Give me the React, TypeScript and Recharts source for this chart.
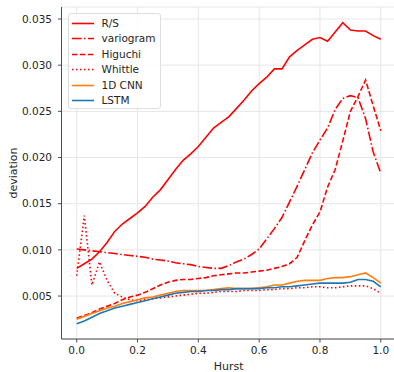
import { LineChart, Line, XAxis, YAxis, CartesianGrid, Legend, Label } from 'recharts'

const hurst = [
  0, 0.025, 0.05, 0.075, 0.1, 0.125, 0.15, 0.175, 0.2, 0.225, 0.25, 0.275, 0.3, 0.325,
  0.35, 0.375, 0.4, 0.425, 0.45, 0.475, 0.5, 0.525, 0.55, 0.575, 0.6, 0.625, 0.65, 0.675,
  0.7, 0.725, 0.75, 0.775, 0.8, 0.825, 0.85, 0.875, 0.9, 0.925, 0.95, 0.975, 1.0,
]

const rsDev = [
  0.008, 0.0085, 0.009, 0.0098, 0.0108, 0.012, 0.0128, 0.0134, 0.014, 0.0147, 0.0157, 0.0165,
  0.0176, 0.0187, 0.0197, 0.0204, 0.0212, 0.0222, 0.0232, 0.0238, 0.0244, 0.0253, 0.0262,
  0.0272, 0.028, 0.0287, 0.0296, 0.0296, 0.0309, 0.0316, 0.0322, 0.0328, 0.033, 0.0326,
  0.0336, 0.0346, 0.0338, 0.0337, 0.0337, 0.0332, 0.0328,
]

const variogramDev = [
  0.0101, 0.01, 0.0099, 0.0098, 0.0097, 0.0096, 0.0095, 0.0094, 0.0093, 0.0092, 0.009,
  0.0089, 0.0088, 0.0086, 0.0085, 0.0084, 0.0082, 0.0081, 0.008, 0.008, 0.0083, 0.0087,
  0.009, 0.0095, 0.0101, 0.0112, 0.0123, 0.0135, 0.0152, 0.0169, 0.0187, 0.0205, 0.0219,
  0.0232, 0.0252, 0.0264, 0.0267, 0.0265, 0.0242, 0.0206, 0.0183,
]

const higuchiDev = [
  0.0026, 0.0029, 0.0032, 0.0036, 0.0039, 0.0042, 0.0046, 0.0049, 0.0051, 0.0054, 0.0058,
  0.0062, 0.0065, 0.0067, 0.0068, 0.0068, 0.0069, 0.007, 0.0072, 0.0073, 0.0074, 0.0075,
  0.0075, 0.0076, 0.0077, 0.0078, 0.008, 0.0082, 0.0085, 0.0092, 0.011, 0.0127, 0.0141,
  0.0168, 0.0187, 0.0218, 0.025, 0.0266, 0.0284, 0.0256, 0.0229,
]

const whittleDev = [
  0.0072, 0.0137, 0.0062, 0.0087, 0.0067, 0.0053, 0.0049, 0.0046, 0.0045, 0.0046, 0.0047,
  0.0048, 0.0049, 0.005, 0.0051, 0.0052, 0.0053, 0.0053, 0.0054, 0.0055, 0.0055, 0.0055,
  0.0056, 0.0056, 0.0056, 0.0057, 0.0057, 0.0058, 0.0058, 0.0059, 0.0059, 0.006, 0.006,
  0.0059, 0.0059, 0.006, 0.0061, 0.0061, 0.0061, 0.0058, 0.0053,
]

const cnnDev = [
  0.0025, 0.0028, 0.0031, 0.0034, 0.0037, 0.0039, 0.0042, 0.0044, 0.0046, 0.0048, 0.0049,
  0.0051, 0.0053, 0.0055, 0.0056, 0.0056, 0.0056, 0.0056, 0.0057, 0.0058, 0.0059, 0.0058,
  0.0058, 0.0058, 0.0059, 0.006, 0.0062, 0.0062, 0.0064, 0.0066, 0.0067, 0.0067, 0.0067,
  0.0069, 0.007, 0.007, 0.0071, 0.0073, 0.0075, 0.007, 0.0064,
]

const lstmDev = [
  0.002, 0.0023, 0.0027, 0.0031, 0.0034, 0.0037, 0.0039, 0.0041, 0.0043, 0.0045, 0.0047,
  0.0049, 0.0051, 0.0053, 0.0054, 0.0055, 0.0055, 0.0056, 0.0056, 0.0057, 0.0057, 0.0058,
  0.0058, 0.0058, 0.0058, 0.0059, 0.0059, 0.006, 0.006, 0.0061, 0.0062, 0.0063, 0.0064,
  0.0064, 0.0064, 0.0064, 0.0065, 0.0068, 0.0068, 0.0066, 0.006,
]

const xTicks = [0, 0.2, 0.4, 0.6, 0.8, 1.0]
const yTicks = [0.005, 0.01, 0.015, 0.02, 0.025, 0.03, 0.035]

const data = hurst.map((h, i) => ({
  hurst: h,
  rs: rsDev[i],
  variogram: variogramDev[i],
  higuchi: higuchiDev[i],
  whittle: whittleDev[i],
  cnn: cnnDev[i],
  lstm: lstmDev[i],
}))

const font = '"DejaVu Sans", sans-serif'
const ink = '#262626'
const spine = '#4d4d4d'

// name, colour, dash pattern
const series = [
  { key: 'rs', name: 'R/S', color: '#ff0000', dash: undefined },
  { key: 'variogram', name: 'variogram', color: '#ff0000', dash: '9.6 2.4 1.5 2.4' },
  { key: 'higuchi', name: 'Higuchi', color: '#ff0000', dash: '5.5 2.4' },
  { key: 'whittle', name: 'Whittle', color: '#ff0000', dash: '1.5 2.5' },
  { key: 'cnn', name: '1D CNN', color: '#ff7f0e', dash: undefined },
  { key: 'lstm', name: 'LSTM', color: '#1f77b4', dash: undefined },
]

function LegendBox() {
  return (
    <div
      style={{
        position: 'relative',
        width: 93,
        height: 96,
        boxSizing: 'border-box',
        background: 'rgba(255,255,255,0.85)',
        border: '1px solid #dedede',
        borderRadius: 3,
        fontFamily: font,
        fontSize: 10.5,
        color: ink,
      }}
    >
      {series.map((s, i) => (
        <div key={s.key} style={{ position: 'absolute', left: 0, top: 1.5 + i * 15.5, height: 15, width: 93 }}>
          <svg width={24} height={15} style={{ position: 'absolute', left: 2, top: 0 }}>
            <line x1={1} y1={7.5} x2={23} y2={7.5} stroke={s.color} strokeWidth={1.6} strokeDasharray={s.dash} />
          </svg>
          <span style={{ position: 'absolute', left: 33, top: 0, lineHeight: '15px', whiteSpace: 'nowrap' }}>{s.name}</span>
        </div>
      ))}
    </div>
  )
}

export default function App() {
  return (
    <div style={{ position: 'absolute', left: 0, top: 0, width: 394, height: 372, overflow: 'hidden', background: '#fff' }}>
      <LineChart width={400} height={372} data={data} margin={{ top: 7, right: 4, bottom: 3, left: 0 }}>
        <CartesianGrid stroke="#e6e6e6" strokeWidth={1} />
        <XAxis
          dataKey="hurst"
          type="number"
          domain={[-0.05, 1.05]}
          ticks={xTicks}
          allowDataOverflow
          height={30}
          tickFormatter={(v: number) => v.toFixed(1)}
          tick={{ fill: ink, fontSize: 10.5, fontFamily: font }}
          tickSize={3.5}
          tickMargin={4}
          stroke={spine}
        >
          <Label value="Hurst" position="insideBottom" offset={-1} style={{ fill: ink, fontSize: 11, fontFamily: font }} />
        </XAxis>
        <YAxis
          type="number"
          domain={[0.00035, 0.0363]}
          ticks={yTicks}
          allowDataOverflow
          width={61.5}
          tickFormatter={(v: number) => v.toFixed(3)}
          tick={{ fill: ink, fontSize: 10.5, fontFamily: font }}
          tickSize={3.5}
          tickMargin={6}
          stroke={spine}
        >
          <Label
            value="deviation"
            angle={-90}
            position="insideLeft"
            offset={13}
            style={{ fill: ink, fontSize: 11, fontFamily: font, textAnchor: 'middle' }}
          />
        </YAxis>
        <Legend
          layout="vertical"
          align="center"
          verticalAlign="middle"
          content={() => <LegendBox />}
          wrapperStyle={{ left: 67.5, top: 13, width: 93, height: 96 }}
        />
        {series.map((s) => (
          <Line
            key={s.key}
            dataKey={s.key}
            name={s.name}
            type="linear"
            stroke={s.color}
            strokeWidth={1.6}
            strokeDasharray={s.dash}
            dot={false}
            activeDot={false}
            isAnimationActive={false}
          />
        ))}
      </LineChart>
    </div>
  )
}
